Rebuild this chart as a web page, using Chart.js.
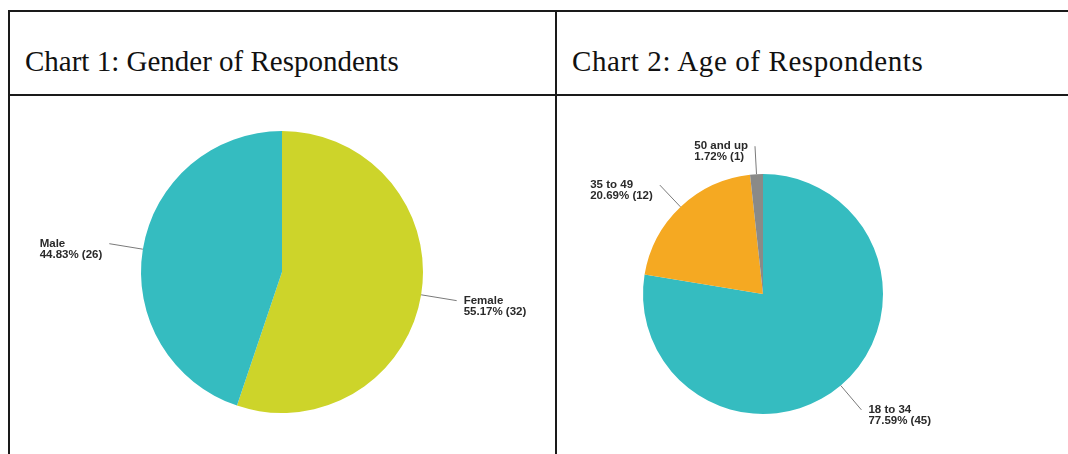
<!DOCTYPE html>
<html>
<head>
<meta charset="utf-8">
<script src="https://cdn.jsdelivr.net/npm/chart.js@4/dist/chart.umd.min.js"></script>
<style>
  body { margin: 0; width: 1068px; height: 454px; overflow: hidden; background: #fff; position: relative; }
  .line { position: absolute; background: #1a1a1a; }
  .head { position: absolute; font-family: "Liberation Serif", "Times New Roman", serif; font-size: 29px; color: #111; top: 45px; line-height: 33px; }
  canvas { position: absolute; }
</style>
</head>
<body>
<div class="line" style="left:8px; top:10px; width:1060px; height:2px;"></div>
<div class="line" style="left:8px; top:94px; width:1060px; height:2px;"></div>
<div class="line" style="left:8px; top:10px; width:2px; height:444px;"></div>
<div class="line" style="left:555px; top:10px; width:2px; height:444px;"></div>
<div class="head" style="left:25px;">Chart 1: Gender of Respondents</div>
<div class="head" style="left:572px; letter-spacing:0.6px;">Chart 2: Age of Respondents</div>

<canvas id="genderChart" width="546" height="352" style="left:9px; top:96px;"></canvas>
<canvas id="ageChart" width="412" height="396" style="left:557px; top:96px;"></canvas>

<script>
// chart 1 data
var genderLabels = ['Female', 'Male'];
var genderCounts = [32, 26];
var genderPct = ['55.17%', '44.83%'];
var genderColors = ['#cdd42a', '#35bcc0'];

// chart 2 data
var ageLabels = ['18 to 34', '35 to 49', '50 and up'];
var ageCounts = [45, 12, 1];
var agePct = ['77.59%', '20.69%', '1.72%'];
var ageColors = ['#35bcc0', '#f5a922', '#8a8a88'];

// draws the callout labels with leader lines
var calloutPlugin = {
  id: 'callouts',
  afterDraw: function(chart, args, opts) {
    var ctx = chart.ctx;
    var meta = chart.getDatasetMeta(0);
    ctx.save();
    ctx.font = 'bold 11.5px "Liberation Sans", Arial, sans-serif';
    ctx.textBaseline = 'middle';
    meta.data.forEach(function(arc, i) {
      var mid = (arc.startAngle + arc.endAngle) / 2;
      var dx = Math.cos(mid), dy = Math.sin(mid);
      var r = arc.outerRadius;
      var len = opts.len[i];
      var x0 = arc.x + dx * r, y0 = arc.y + dy * r;
      var x1 = x0 + dx * len, y1 = y0 + dy * len;
      ctx.strokeStyle = '#7a7a7a';
      ctx.lineWidth = 1;
      ctx.beginPath();
      ctx.moveTo(x0, y0);
      ctx.lineTo(x1, y1);
      ctx.stroke();
      var l1 = chart.data.labels[i];
      var l2 = opts.pct[i] + ' (' + chart.data.datasets[0].data[i] + ')';
      var w = Math.max(ctx.measureText(l1).width, ctx.measureText(l2).width);
      var tx = dx >= 0 ? x1 + 7 : x1 - 7 - w;
      ctx.fillStyle = '#2a2a2a';
      ctx.textAlign = 'left';
      ctx.fillText(l1, tx, y1);
      ctx.fillText(l2, tx, y1 + 11);
    });
    ctx.restore();
  }
};

function makePie(id, labels, values, colors, pct, radius, len) {
  var ctx = document.getElementById(id).getContext('2d');
  return new Chart(ctx, {
    type: 'pie',
    data: {
      labels: labels,
      datasets: [{
        data: values,
        backgroundColor: colors,
        borderWidth: 0,
        radius: radius
      }]
    },
    options: {
      responsive: false,
      animation: false,
      layout: { padding: 0 },
      plugins: {
        legend: { display: false },
        tooltip: { enabled: false },
        callouts: { pct: pct, len: len }
      }
    },
    plugins: [calloutPlugin]
  });
}

makePie('genderChart', genderLabels, genderCounts, genderColors, genderPct, 141, [36, 34]);
makePie('ageChart', ageLabels, ageCounts, ageColors, agePct, 120, [32, 30, 28]);
</script>
</body>
</html>
